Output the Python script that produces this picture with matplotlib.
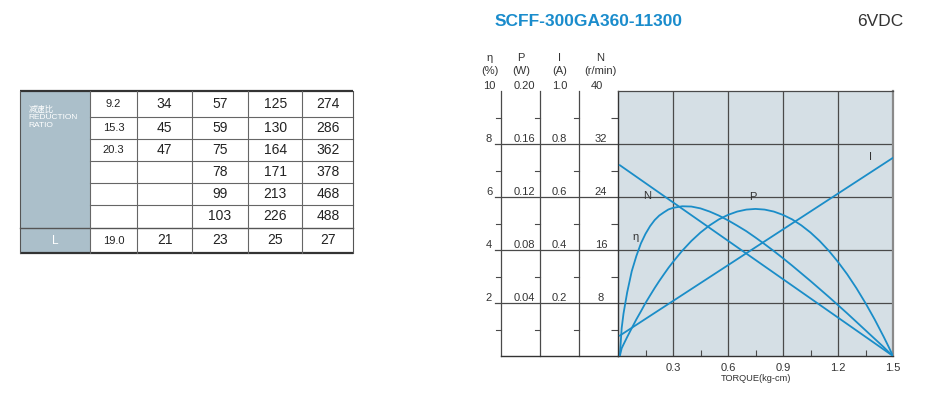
import matplotlib
matplotlib.use("Agg")
import matplotlib.pyplot as plt
from matplotlib.transforms import blended_transform_factory as blend
from matplotlib.ticker import FixedLocator

plt.rcParams['font.family'] = ['Liberation Sans', 'Noto Sans CJK SC', 'DejaVu Sans']

# ---------------- data ----------------
title = "SCFF-300GA360-11300"
voltage = "6VDC"

ratio_rows = [
    ["9.2", "34", "57", "125", "274"],
    ["15.3", "45", "59", "130", "286"],
    ["20.3", "47", "75", "164", "362"],
    ["", "", "78", "171", "378"],
    ["", "", "99", "213", "468"],
    ["", "", "103", "226", "488"],
]
L_row = ["19.0", "21", "23", "25", "27"]
ratio_header = "减速比\nREDUCTION\nRATIO"
L_header = "L"

# performance curves (torque in kg-cm)
torque_lin = [0.01, 1.5]
N_rpm = [28.8, 0.0]
I_amp = [0.077, 0.748]

torque = [0.01, 0.02, 0.03, 0.04, 0.05, 0.075, 0.1, 0.125, 0.15, 0.175, 0.2, 0.225, 0.25, 0.275,
          0.3, 0.35, 0.4, 0.45, 0.5, 0.55, 0.6, 0.65, 0.7, 0.75, 0.8, 0.85, 0.9, 0.95, 1.0,
          1.05, 1.1, 1.15, 1.2, 1.25, 1.3, 1.35, 1.4, 1.45, 1.475, 1.5]
eta_pct = [0.0, 1.05, 1.6, 2.0, 2.4, 3.2, 3.77, 4.25, 4.61, 4.90, 5.13, 5.30, 5.42, 5.53,
           5.59, 5.65, 5.64, 5.57, 5.45, 5.30, 5.12, 4.92, 4.71, 4.47, 4.22, 3.96, 3.69, 3.41, 3.12,
           2.83, 2.53, 2.23, 1.92, 1.61, 1.29, 0.97, 0.65, 0.33, 0.16, 0.0]
P_watt = [0.0, 0.0058, 0.0087, 0.0115, 0.0143, 0.0210, 0.0276, 0.0337, 0.0400, 0.0457, 0.0513,
          0.0566, 0.0616, 0.0665, 0.0710, 0.0794, 0.0868, 0.0932, 0.0986, 0.1031, 0.1065, 0.1090,
          0.1105, 0.1110, 0.1105, 0.1090, 0.1065, 0.1031, 0.0986, 0.0932, 0.0868, 0.0794, 0.0710,
          0.0617, 0.0513, 0.0399, 0.0276, 0.0143, 0.0073, 0.0]

x_ticks = [0.3, 0.6, 0.9, 1.2, 1.5]
x_minor = [0.15, 0.45, 0.75, 1.05, 1.35]
eta_ticks = [2, 4, 6, 8, 10]
P_ticks = [0.04, 0.08, 0.12, 0.16, 0.20]
I_ticks = [0.2, 0.4, 0.6, 0.8, 1.0]
N_ticks = [8, 16, 24, 32, 40]
eta_lbl = ["2", "4", "6", "8", "10"]
P_lbl = ["0.04", "0.08", "0.12", "0.16", "0.20"]
I_lbl = ["0.2", "0.4", "0.6", "0.8", "1.0"]
N_lbl = ["8", "16", "24", "32", "40"]

# ---------------- style ----------------
BLUE = "#1a8dc8"
GRID = "#4a4a4a"
PANEL = "#d5dfe5"
TBLGREY = "#abbfca"
TXT = "#222222"

W, H = 930, 395
fig = plt.figure(figsize=(W / 100, H / 100), dpi=100)

# overlay axes in pixel coordinates
ov = fig.add_axes([0, 0, 1, 1])
ov.set_xlim(0, W)
ov.set_ylim(H, 0)
ov.axis("off")

# ---------------- table ----------------
col_x = [20, 90, 137.3, 191.7, 248.3, 302.3, 353.3]
row_y = [91, 117.3, 139.3, 161.3, 183.3, 205.3, 227.7, 253.3]

ov.add_patch(plt.Rectangle((col_x[0], row_y[0]), col_x[1] - col_x[0], row_y[6] - row_y[0],
                           facecolor=TBLGREY, edgecolor="none"))
ov.add_patch(plt.Rectangle((col_x[0], row_y[6]), col_x[1] - col_x[0], row_y[7] - row_y[6],
                           facecolor=TBLGREY, edgecolor="none"))
for i, y in enumerate(row_y):
    if i == 0 or i == len(row_y) - 1:
        ov.plot([col_x[0], col_x[-1]], [y, y], color="#333333", lw=1.6, solid_capstyle="butt")
    elif i == 6:
        ov.plot([col_x[0], col_x[-1]], [y, y], color="#555555", lw=1.0)
    else:
        ov.plot([col_x[1], col_x[-1]], [y, y], color="#666666", lw=0.8)
for j, x in enumerate(col_x):
    ov.plot([x, x], [row_y[0], row_y[-1]], color="#666666" if 0 < j < len(col_x) - 1 else "#555555",
            lw=0.8)

for r, row in enumerate(ratio_rows):
    yc = (row_y[r] + row_y[r + 1]) / 2
    for c, val in enumerate(row):
        xc = (col_x[c + 1] + col_x[c + 2]) / 2
        ov.text(xc, yc, val, ha="center", va="center", color=TXT,
                fontsize=8 if c == 0 else 10)
yc = (row_y[6] + row_y[7]) / 2
for c, val in enumerate(L_row):
    xc = (col_x[c + 1] + col_x[c + 2]) / 2
    ov.text(xc, yc, val, ha="center", va="center", color=TXT, fontsize=8 if c == 0 else 10)
ov.text(28.5, 105.5, ratio_header, ha="left", va="top", color="white", fontsize=6, linespacing=1.1)
ov.text((col_x[0] + col_x[1]) / 2, yc, L_header, ha="center", va="center", color="white", fontsize=8.5)

# ---------------- title ----------------
ov.text(589, 21, title, ha="center", va="center", color="#1a8ccc", fontsize=12.5, fontweight="bold")
ov.text(880, 21, voltage, ha="center", va="center", color="#333333", fontsize=12.5)

# ---------------- chart ----------------
L, R, T, B = 618, 893, 91, 356
ax = fig.add_axes([L / W, (H - B) / H, (R - L) / W, (B - T) / H])
ax.set_facecolor(PANEL)
ax.set_xlim(0, 1.5)
ax.set_ylim(0, 10)
ax.xaxis.set_major_locator(FixedLocator(x_ticks))
ax.xaxis.set_minor_locator(FixedLocator(x_minor))
ax.set_xticklabels([f"{t:.1f}" for t in x_ticks])
ax.yaxis.set_major_locator(FixedLocator([2, 4, 6, 8]))
ax.yaxis.set_minor_locator(FixedLocator([1, 3, 5, 7, 9]))
ax.set_yticklabels([])
ax.tick_params(axis="x", which="major", length=0, labelsize=8, pad=5, labelcolor="#333333")
ax.tick_params(axis="x", which="minor", direction="in", length=4, width=0.8, color=GRID)
ax.tick_params(axis="y", which="major", length=0)
ax.tick_params(axis="y", which="minor", direction="out", length=5, width=0.8, color=GRID)
ax.grid(True, which="major", color=GRID, lw=0.9)
for s in ["left", "bottom"]:
    ax.spines[s].set_color("#333333")
    ax.spines[s].set_linewidth(1.0)
ax.spines["top"].set_color(GRID)
ax.spines["top"].set_linewidth(0.9)
ax.spines["right"].set_color("#8a8a8a")
ax.spines["right"].set_linewidth(1.6)
ax.set_xlabel("TORQUE(kg-cm)", fontsize=6.7, color="#333333", labelpad=1)

def twin(lim):
    a = ax.twinx()
    a.set_ylim(0, lim)
    a.axis("off")
    return a

axP = twin(0.2)
axI = twin(1.0)
axN = twin(40)

lw = 1.3
ax.plot(torque, eta_pct, color=BLUE, lw=lw, solid_joinstyle="round")
axP.plot(torque, P_watt, color=BLUE, lw=lw, solid_joinstyle="round")
axI.plot(torque_lin, I_amp, color=BLUE, lw=lw)
axN.plot(torque_lin, N_rpm, color=BLUE, lw=lw)

lab_kw = dict(fontsize=8, color="#333333", ha="center", va="center")
ax.text(0.16, 6.05, "N", **lab_kw)
ax.text(0.095, 4.5, "η", **lab_kw)
ax.text(0.735, 6.0, "P", **lab_kw)
ax.text(1.38, 7.5, "I", **lab_kw)

# ---------------- left scale columns ----------------
col_lines = [501, 540, 579]
trE = blend(ov.transData, ax.transData)
for x in col_lines:
    ov.plot([x, x], [0, 10], color=GRID, lw=0.9, transform=trE)
    for v in [1, 3, 5, 7, 9]:
        ov.plot([x - 5, x], [v, v], color=GRID, lw=0.8, transform=trE)
for v in [2, 4, 6, 8]:
    ov.plot([495, L], [v, v], color=GRID, lw=0.9, transform=trE)
ov.plot([501, L], [0, 0], color="#333333", lw=1.0, transform=trE)

tk = dict(fontsize=8, color="#333333", va="bottom")
for v, s in zip(eta_ticks, eta_lbl):
    ov.text(489, v, s, ha="center", transform=trE, **tk)
trP = blend(ov.transData, axP.transData)
for v, s in zip(P_ticks, P_lbl):
    ov.text(524, v, s, ha="center", transform=trP, **tk)
trI = blend(ov.transData, axI.transData)
for v, s in zip(I_ticks, I_lbl):
    ov.text(559.5, v, s, ha="center", transform=trI, **tk)
trN = blend(ov.transData, axN.transData)
for v, s in zip(N_ticks, N_lbl):
    ov.text(601 if v != 40 else 597, v, s, ha="center", transform=trN, **tk)

hdr = dict(fontsize=8, color="#333333", ha="center", va="center")
for x, a, b in [(490, "η", "(%)"), (521, "P", "(W)"), (559.5, "I", "(A)"), (600.5, "N", "(r/min)")]:
    ov.text(x, 58, a, **hdr)
    ov.text(x, 71.5, b, **hdr)

fig.savefig("out.png", dpi=100)
